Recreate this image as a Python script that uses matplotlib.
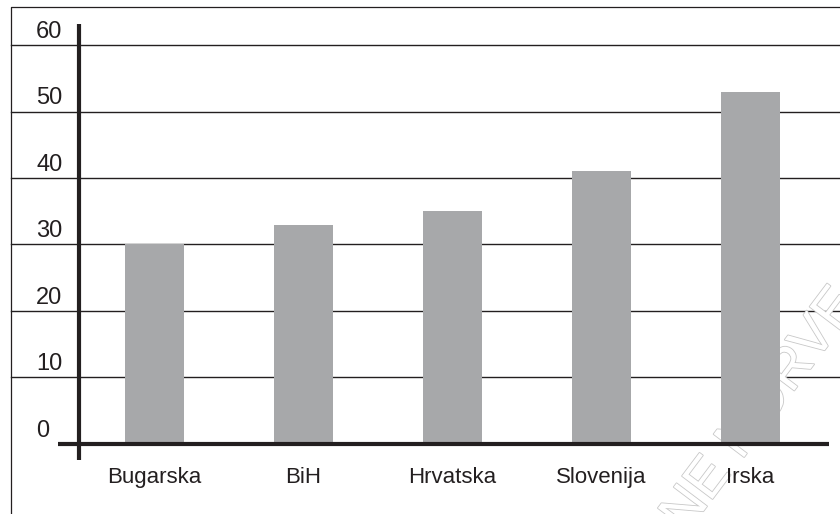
import matplotlib.pyplot as plt
import matplotlib.patheffects as pe

plt.rcParams['font.family'] = ['Liberation Sans', 'DejaVu Sans']

# data
countries = ['Bugarska', 'BiH', 'Hrvatska', 'Slovenija', 'Irska']
values = [30, 33, 35, 41, 53]
yticks = [0, 10, 20, 30, 40, 50, 60]

bar_color = '#a7a8aa'
ink = '#231f20'

fig = plt.figure(figsize=(8.4, 5.14), dpi=100)
ax = fig.add_axes([0, 0, 1, 1])
ax.axis('off')
ax.set_xlim(-1.037, 4.601)
ax.set_ylim(-10.53, 66.77)

x = list(range(len(countries)))

# frame of the scanned figure (only top and left edges are visible)
ax.plot([-0.963, -0.963, 4.7], [-11, 65.7, 65.7], color=ink, lw=0.9, clip_on=False)

# grid lines
for v in yticks[1:]:
    ax.plot([-0.963, 4.7], [v, v], color=ink, lw=1.0, zorder=1)

# faint watermark, sits under the bars
ax.text(848 / 840, 1 - 296 / 514, 'ONLINE NORVE', transform=fig.transFigure,
        fontsize=40, color='white', rotation=53, rotation_mode='anchor',
        ha='right', va='center', zorder=1.5,
        path_effects=[pe.withStroke(linewidth=1.2, foreground='#c8c8c8')])

ax.bar(x, values, width=0.4, color=bar_color, zorder=2)

# thick axes
ax.plot([-0.507, -0.507], [-2.4, 63.2], color=ink, lw=3.0, solid_capstyle='butt', zorder=3)
ax.plot([-0.648, 4.53], [0, 0], color=ink, lw=3.0, solid_capstyle='butt', zorder=3)

for v in yticks:
    ax.text(-0.795, v + 2.0, str(v), ha='left', va='center', fontsize=17, color=ink)

for xi, name in zip(x, countries):
    ax.text(xi, -5.0, name, ha='center', va='center', fontsize=16, color=ink, zorder=4)

fig.savefig('out.png', dpi=100)
